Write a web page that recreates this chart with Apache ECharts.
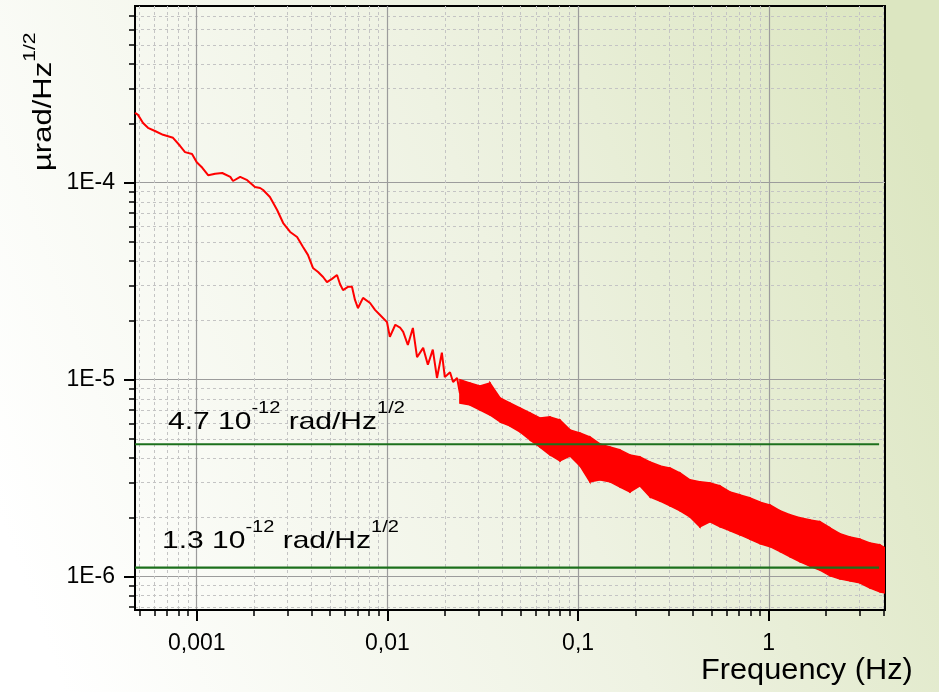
<!DOCTYPE html>
<html>
<head>
<meta charset="utf-8">
<title>Angle noise spectrum</title>
<script src="https://cdn.jsdelivr.net/npm/echarts@6.0.0/dist/echarts.min.js"></script>
<style>
html,body{margin:0;padding:0;}
#J_Main{width:939px;height:692px;}
</style>
</head>
<body>
<div id="J_Main"></div>
<script>
// low frequency part of the spectrum: Hz / (µrad/Hz^1/2)
var traceFreq=[4.75e-4,4.92e-4,5.23e-4,5.55e-4,6.04e-4,6.66e-4,7.51e-4,8.17e-4,8.68e-4,9.45e-4,1.00e-3,1.07e-3,1.15e-3,1.25e-3,1.36e-3,1.50e-3,1.55e-3,1.69e-3,1.84e-3,2.02e-3,2.15e-3,2.23e-3,2.42e-3,2.64e-3,2.84e-3,3.09e-3,3.36e-3,3.61e-3,3.83e-3,4.07e-3,4.33e-3,4.60e-3,4.82e-3,5.12e-3,5.44e-3,5.64e-3,5.85e-3,6.21e-3,6.52e-3,6.76e-3,7.01e-3,7.45e-3,8.11e-3,8.61e-3,9.15e-3,9.95e-3,1.03e-2,1.10e-2,1.17e-2,1.21e-2,1.28e-2,1.36e-2,1.43e-2,1.54e-2,1.63e-2,1.73e-2,1.82e-2,1.93e-2,2.00e-2,2.13e-2,2.21e-2,2.32e-2,2.40e-2,2.62e-2,2.81e-2,3.06e-2];
var traceAmp=[2.26e-4,2.21e-4,2.01e-4,1.90e-4,1.83e-4,1.75e-4,1.69e-4,1.54e-4,1.43e-4,1.40e-4,1.27e-4,1.19e-4,1.09e-4,1.11e-4,1.12e-4,1.07e-4,1.02e-4,1.07e-4,1.03e-4,9.51e-5,9.40e-5,9.18e-5,8.46e-5,7.27e-5,6.24e-5,5.62e-5,5.30e-5,4.72e-5,4.30e-5,3.69e-5,3.52e-5,3.32e-5,3.13e-5,3.25e-5,3.40e-5,3.06e-5,2.85e-5,2.96e-5,2.96e-5,2.54e-5,2.31e-5,2.60e-5,2.45e-5,2.26e-5,2.13e-5,1.96e-5,1.65e-5,1.90e-5,1.83e-5,1.75e-5,1.50e-5,1.83e-5,1.30e-5,1.45e-5,1.19e-5,1.42e-5,1.02e-5,1.37e-5,1.03e-5,1.09e-5,9.73e-6,1.02e-5,8.56e-6,8.87e-6,8.17e-6,8.66e-6];

// noisy high frequency part, upper and lower edge of the red band
var bandFreq=[0.0240,0.0271,0.0306,0.0345,0.0390,0.0439,0.0496,0.0560,0.0631,0.0712,0.0804,0.0907,0.1023,0.1154,0.1302,0.1470,0.1658,0.1872,0.2112,0.2383,0.2689,0.3033,0.3423,0.3862,0.4357,0.4917,0.5548,0.6260,0.7063,0.7970,0.8993,1.015,1.145,1.292,1.458,1.645,1.856,2.094,2.363,2.667,3.009,3.395,3.831,4.07];
var bandHigh=[1.00e-5,9.62e-6,9.29e-6,9.62e-6,8.07e-6,7.61e-6,7.18e-6,6.78e-6,6.39e-6,6.47e-6,6.24e-6,5.56e-6,5.36e-6,5.12e-6,4.72e-6,4.55e-6,4.40e-6,4.15e-6,4.05e-6,3.82e-6,3.65e-6,3.56e-6,3.36e-6,3.10e-6,3.03e-6,2.99e-6,2.89e-6,2.69e-6,2.60e-6,2.51e-6,2.39e-6,2.31e-6,2.16e-6,2.06e-6,1.99e-6,1.94e-6,1.90e-6,1.77e-6,1.65e-6,1.59e-6,1.55e-6,1.48e-6,1.45e-6,1.40e-6];
var bandLow=[7.61e-6,7.44e-6,7.02e-6,6.62e-6,6.10e-6,5.82e-6,5.43e-6,4.94e-6,4.55e-6,4.15e-6,3.87e-6,4.10e-6,3.65e-6,3.03e-6,3.10e-6,3.03e-6,2.85e-6,2.69e-6,2.89e-6,2.54e-6,2.42e-6,2.29e-6,2.16e-6,2.01e-6,1.79e-6,1.90e-6,1.79e-6,1.71e-6,1.63e-6,1.55e-6,1.47e-6,1.42e-6,1.34e-6,1.26e-6,1.19e-6,1.13e-6,1.08e-6,1.01e-6,9.73e-7,9.51e-7,9.29e-7,8.76e-7,8.36e-7,8.27e-7];

// green reference levels
var refLevels=[4.7e-6,1.11e-6];
var refFreqSpan=[4.75e-4,3.79];
var refLabels=[["4.7 10","-12"," rad/Hz","1/2"],["1.3 10","-12"," rad/Hz","1/2"]];

// axes
var xRange=[4.745e-4,4.07];
var yRange=[6.77e-7,7.89e-4];
var xMajorTicks=[0.001,0.01,0.1,1];
var xMinorTicks=[5e-4,6e-4,7e-4,8e-4,9e-4,0.002,0.003,0.004,0.005,0.006,0.007,0.008,0.009,0.02,0.03,0.04,0.05,0.06,0.07,0.08,0.09,0.2,0.3,0.4,0.5,0.6,0.7,0.8,0.9,2,3,4];
var yMajorTicks=[1e-6,1e-5,1e-4];
var yMinorTicks=[7e-7,8e-7,9e-7,2e-6,3e-6,4e-6,5e-6,6e-6,7e-6,8e-6,9e-6,2e-5,3e-5,4e-5,5e-5,6e-5,7e-5,8e-5,9e-5,2e-4,3e-4,4e-4,5e-4,6e-4,7e-4];

var fontName='"Liberation Sans", Arial, sans-serif';

// superscript: the small token sits at the top of a taller line set by the big token
function supRich(big,small,raise){
    return {
        m:{fontSize:big,lineHeight:small+2*raise,fontFamily:fontName,color:'#000'},
        s:{fontSize:small,lineHeight:small,verticalAlign:'top',fontFamily:fontName,color:'#000'}
    };
}
function supText(parts){
    return '{m|'+parts[0]+'}{s|'+parts[1]+'}{m|'+parts[2]+'}{s|'+parts[3]+'}';
}

var chart=echarts.init(document.getElementById('J_Main'));

var majorAxis=function(dim,range,ticks,fmt,margin){
    return {
        type:'log',logBase:10,min:range[0],max:range[1],
        position:dim==='x'?'bottom':'left',
        axisLine:{show:true,onZero:false,lineStyle:{color:'#000',width:2}},
        axisTick:{show:true,customValues:ticks,length:11,lineStyle:{color:'#000',width:2}},
        minorTick:{show:false},
        axisLabel:{customValues:ticks,formatter:fmt,margin:margin,color:'#000',fontSize:23,fontFamily:fontName},
        splitLine:{show:true,lineStyle:{color:'#9c9c9c',width:1.2}}
    };
};
var minorAxis=function(dim,range,ticks){
    return {
        type:'log',logBase:10,min:range[0],max:range[1],
        position:dim==='x'?'bottom':'left',
        axisLine:{show:false},
        axisTick:{show:true,customValues:ticks,length:6,lineStyle:{color:'#000',width:1.5}},
        axisLabel:{show:false},
        splitLine:{show:true,lineStyle:{color:'#c4c4c4',width:1,type:[3,3]}}
    };
};

// one cell of the band between two neighbouring samples
var bandCells=[];
for(var i=0;i<bandFreq.length-1;i++){
    bandCells.push([bandFreq[i],bandHigh[i],bandLow[i],bandFreq[i+1],bandHigh[i+1],bandLow[i+1]]);
}

var series=[{
    type:'custom',name:'band',data:bandCells,z:3,clip:true,
    encode:{x:[0,3],y:[1,2,4,5]},
    renderItem:function(params,api){
        var a=api.coord([api.value(0),api.value(1)]);
        var b=api.coord([api.value(3),api.value(4)]);
        var c=api.coord([api.value(3),api.value(5)]);
        var d=api.coord([api.value(0),api.value(2)]);
        return {type:'polygon',shape:{points:[a,b,c,d]},style:{fill:'#ff0000',stroke:'#ff0000',lineWidth:1.5}};
    }
},{
    type:'line',name:'trace',data:traceFreq.map(function(f,i){return [f,traceAmp[i]];}),
    symbol:'none',lineStyle:{color:'#ff0000',width:2},z:4
}];
refLevels.forEach(function(v){
    series.push({
        type:'line',data:[[refFreqSpan[0],v],[refFreqSpan[1],v]],symbol:'none',
        lineStyle:{color:'#1c701c',width:2.2},z:5
    });
});

var option={
    animation:false,
    backgroundColor:new echarts.graphic.LinearGradient(0,0.75,1,0.25,[
        {offset:0,color:'#ffffff'},
        {offset:0.55,color:'#eef2e2'},
        {offset:1,color:'#dce6c1'}
    ]),
    grid:{left:135,right:54,top:6,bottom:82,containLabel:false,outerBoundsMode:'none',
        show:true,borderColor:'#000',borderWidth:2,backgroundColor:'transparent'},
    xAxis:[
        majorAxis('x',xRange,xMajorTicks,function(v){return String(v).replace('.',',');},22),
        minorAxis('x',xRange,xMinorTicks)
    ],
    yAxis:[
        majorAxis('y',yRange,yMajorTicks,function(v){return '1E'+Math.round(Math.log10(v));},20),
        minorAxis('y',yRange,yMinorTicks)
    ],
    series:series,
    graphic:[{
        type:'text',x:168,y:401,scaleX:1.25,z:10,
        style:{text:supText(refLabels[0]),rich:supRich(24,16,13.5),align:'left',verticalAlign:'top'}
    },{
        type:'text',x:162,y:520,scaleX:1.25,z:10,
        style:{text:supText(refLabels[1]),rich:supRich(24,16,13.5),align:'left',verticalAlign:'top'}
    },{
        type:'text',x:22,y:171,rotation:Math.PI/2,scaleX:1.24,z:10,
        style:{text:'{m|µrad/Hz}{s|1/2}',rich:supRich(25,17,14),align:'left',verticalAlign:'top'}
    },{
        type:'text',x:701,y:671,scaleX:1.06,z:10,
        style:{text:'Frequency (Hz)',fontSize:29,fontFamily:fontName,fill:'#000',align:'left',verticalAlign:'middle'}
    }]
};
chart.setOption(option);
</script>
</body>
</html>
